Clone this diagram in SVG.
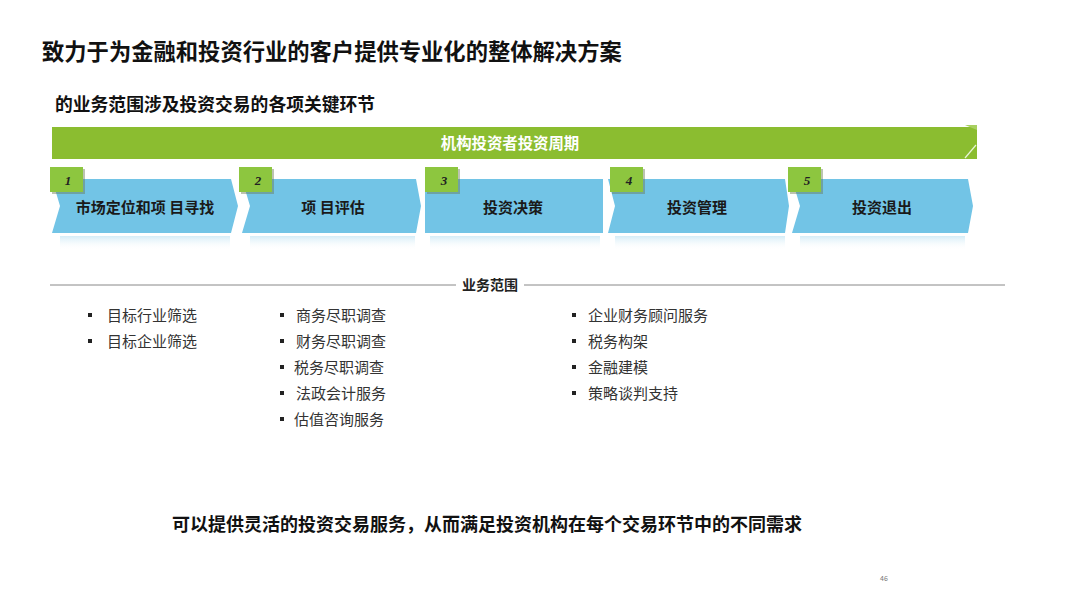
<svg xmlns="http://www.w3.org/2000/svg" width="1080" height="608" viewBox="0 0 1080 608">
<defs>
<style>
.t{font-family:"Noto Sans CJK SC","Liberation Sans",sans-serif;}
.title{font-size:22.3px;font-weight:bold;fill:#111;}
.sub{font-size:17.8px;font-weight:bold;fill:#111;}
.bar{font-size:15.4px;font-weight:bold;fill:#fff;}
.lab{font-size:15px;font-weight:bold;fill:#1a1a1a;}
.num{font-family:"Liberation Serif",serif;font-style:italic;font-weight:bold;font-size:13px;fill:#222;}
.item{font-size:15px;fill:#333;}
.bul{fill:#222;}
.chev{fill:#72c4e6;}
.tab{fill:#8dc63f;}
.tabsh{fill:#6b7a55;opacity:0.45;}
</style>
<linearGradient id="refl" x1="0" y1="0" x2="0" y2="1">
<stop offset="0" stop-color="#cfeaf6" stop-opacity="0.9"/>
<stop offset="1" stop-color="#ffffff" stop-opacity="0"/>
</linearGradient>
</defs>
<rect width="1080" height="608" fill="#fff"/>

<g id="title"><text class="t title" x="42" y="60">致力于为金融和投资行业的客户提供专业化的整体解决方案</text></g>
<g id="subtitle"><text class="t sub" x="55" y="111">的业务范围涉及投资交易的各项关键环节</text></g>

<g id="cycle-bar">
<rect x="52" y="127" width="925" height="32" fill="#8bbd30"/>
<path d="M965,125 L977,125 L977,130 Z" fill="#a8d060"/>
<line x1="976" y1="145" x2="965" y2="158" stroke="#e8f4d8" stroke-width="1.2"/>
<text class="t bar" x="510" y="149" text-anchor="middle">机构投资者投资周期</text>
</g>

<g id="reflections">
<rect x="60" y="236" width="170" height="14" fill="url(#refl)"/>
<rect x="250" y="236" width="165" height="14" fill="url(#refl)"/>
<rect x="430" y="236" width="170" height="14" fill="url(#refl)"/>
<rect x="615" y="236" width="170" height="14" fill="url(#refl)"/>
<rect x="800" y="236" width="165" height="14" fill="url(#refl)"/>
</g>

<g id="step1">
<path class="chev" d="M52,179 L231,179 L238,206 L231,233 L52,233 L60,206 Z"/>
<rect class="tabsh" x="52" y="169" width="33" height="25"/>
<rect class="tab" x="50" y="167" width="33" height="25"/>
<text class="num" x="68" y="185" text-anchor="middle">1</text>
<text class="t lab" x="145" y="213" text-anchor="middle">市场定位和项 目寻找</text>
</g>
<g id="step2">
<path class="chev" d="M242,179 L416,179 L421,206 L416,233 L242,233 L250,206 Z"/>
<rect class="tabsh" x="241" y="169" width="33" height="25"/>
<rect class="tab" x="239" y="167" width="33" height="25"/>
<text class="num" x="258" y="185" text-anchor="middle">2</text>
<text class="t lab" x="333" y="213" text-anchor="middle">项 目评估</text>
</g>
<g id="step3">
<path class="chev" d="M425,179 L603,179 L603,233 L425,233 Z"/>
<rect class="tabsh" x="427" y="169" width="33" height="25"/>
<rect class="tab" x="425" y="167" width="33" height="25"/>
<text class="num" x="444" y="185" text-anchor="middle">3</text>
<text class="t lab" x="513" y="213" text-anchor="middle">投资决策</text>
</g>
<g id="step4">
<path class="chev" d="M608,179 L785,179 L789,206 L785,233 L608,233 L615,206 Z"/>
<rect class="tabsh" x="612" y="169" width="33" height="25"/>
<rect class="tab" x="610" y="167" width="33" height="25"/>
<text class="num" x="629" y="185" text-anchor="middle">4</text>
<text class="t lab" x="697" y="213" text-anchor="middle">投资管理</text>
</g>
<g id="step5">
<path class="chev" d="M792,179 L968,179 L973,206 L968,233 L792,233 L800,206 Z"/>
<rect class="tabsh" x="790" y="169" width="33" height="25"/>
<rect class="tab" x="788" y="167" width="33" height="25"/>
<text class="num" x="807" y="185" text-anchor="middle">5</text>
<text class="t lab" x="882" y="213" text-anchor="middle">投资退出</text>
</g>

<g id="divider">
<line x1="50" y1="285" x2="456" y2="285" stroke="#888" stroke-width="1"/>
<line x1="524" y1="285" x2="1005" y2="285" stroke="#888" stroke-width="1"/>
<text class="t" x="490" y="290" text-anchor="middle" font-size="14" font-weight="bold" fill="#222">业务范围</text>
</g>

<g id="col1">
<rect class="bul" x="88" y="313" width="4" height="4"/>
<text class="t item" x="107" y="321">目标行业筛选</text>
<rect class="bul" x="88" y="339" width="4" height="4"/>
<text class="t item" x="107" y="347">目标企业筛选</text>
</g>
<g id="col2">
<rect class="bul" x="280" y="313" width="4" height="4"/>
<text class="t item" x="296" y="321">商务尽职调查</text>
<rect class="bul" x="280" y="339" width="4" height="4"/>
<text class="t item" x="296" y="347">财务尽职调查</text>
<rect class="bul" x="280" y="365" width="4" height="4"/>
<text class="t item" x="294" y="373">税务尽职调查</text>
<rect class="bul" x="280" y="391" width="4" height="4"/>
<text class="t item" x="296" y="399">法政会计服务</text>
<rect class="bul" x="280" y="417" width="4" height="4"/>
<text class="t item" x="294" y="425">估值咨询服务</text>
</g>
<g id="col3">
<rect class="bul" x="572" y="313" width="4" height="4"/>
<text class="t item" x="588" y="321">企业财务顾问服务</text>
<rect class="bul" x="572" y="339" width="4" height="4"/>
<text class="t item" x="588" y="347">税务构架</text>
<rect class="bul" x="572" y="365" width="4" height="4"/>
<text class="t item" x="588" y="373">金融建模</text>
<rect class="bul" x="572" y="391" width="4" height="4"/>
<text class="t item" x="588" y="399">策略谈判支持</text>
</g>

<g id="conclusion"><text class="t" x="172" y="531" font-size="18" font-weight="bold" fill="#111">可以提供灵活的投资交易服务，从而满足投资机构在每个交易环节中的不同需求</text></g>
<g id="page"><text class="t" x="884" y="581" font-size="7" fill="#777" text-anchor="middle">46</text></g>
</svg>
